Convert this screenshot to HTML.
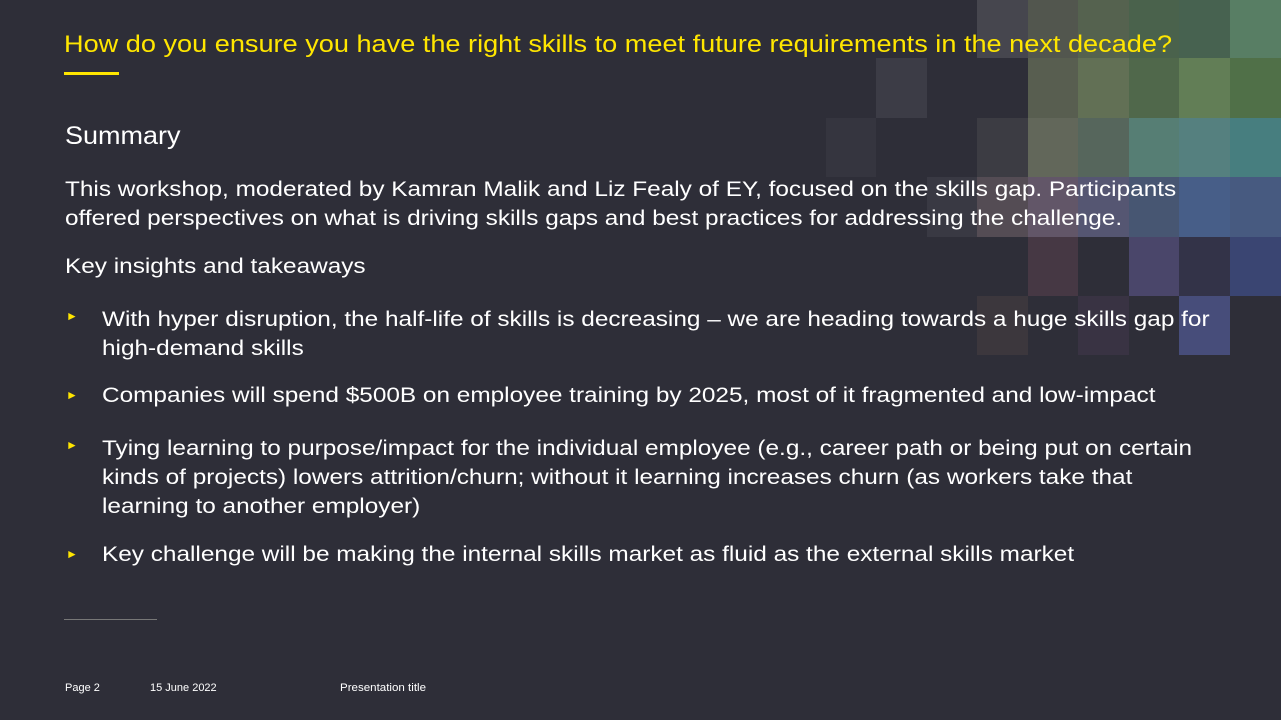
<!DOCTYPE html>
<html><head><meta charset="utf-8"><style>
body{margin:0;width:1281px;height:720px;background:#2e2e38;overflow:hidden;position:relative;font-family:"Liberation Sans",sans-serif;}
.c{position:absolute;width:51px;height:60px;}
.t{position:absolute;white-space:nowrap;color:#fff;transform-origin:0 0;}
.b{font-size:21px;transform:scaleX(1.16);}
.bul{position:absolute;color:#ffe600;font-size:12px;}
</style></head><body>
<div id="mosaic"></div>
<div class="t" style="left:64px;top:31px;font-size:24px;color:#ffe600;transform:scaleX(1.13);">How do you ensure you have the right skills to meet future requirements in the next decade?</div>
<div style="position:absolute;left:64px;top:72px;width:55px;height:3px;background:#ffe600"></div>
<div class="t" style="left:65px;top:122px;font-size:25px;transform:scaleX(1.08);">Summary</div>
<div class="t b" style="left:65px;top:175px;line-height:29px;">This workshop, moderated by Kamran Malik and Liz Fealy of EY, focused on the skills gap. Participants<br>offered perspectives on what is driving skills gaps and best practices for addressing the challenge.</div>
<div class="t b" style="left:65px;top:255px;">Key insights and takeaways</div>
<div class="bul" style="left:66px;top:309px">►</div>
<div class="t b" style="left:102px;top:305px;line-height:29px;">With hyper disruption, the half-life of skills is decreasing – we are heading towards a huge skills gap for<br>high-demand skills</div>
<div class="bul" style="left:66px;top:388px">►</div>
<div class="t b" style="left:102px;top:384px;">Companies will spend $500B on employee training by 2025, most of it fragmented and low-impact</div>
<div class="bul" style="left:66px;top:438px">►</div>
<div class="t b" style="left:102px;top:434px;line-height:29px;">Tying learning to purpose/impact for the individual employee (e.g., career path or being put on certain<br>kinds of projects) lowers attrition/churn; without it learning increases churn (as workers take that<br>learning to another employer)</div>
<div class="bul" style="left:66px;top:547px">►</div>
<div class="t b" style="left:102px;top:543px;">Key challenge will be making the internal skills market as fluid as the external skills market</div>
<div style="position:absolute;left:64px;top:619px;width:93px;height:1px;background:#777"></div>
<div class="t" style="left:65px;top:682px;font-size:11px;">Page 2</div>
<div class="t" style="left:150px;top:682px;font-size:11px;">15 June 2022</div>
<div class="t" style="left:340px;top:682px;font-size:11px;transform:scaleX(1.05);">Presentation title</div>
<script>
const cols=[826,876,927,977,1028,1078,1129,1179,1230];
const rows=[0,58,118,177,237,296];
const cells=[
[0,3,'#46464e'],[0,4,'#52564e'],[0,5,'#55624f'],[0,6,'#4a624c'],[0,7,'#476250'],[0,8,'#587e64'],
[1,1,'#3c3c46'],[1,4,'#585e50'],[1,5,'#627055'],[1,6,'#50684b'],[1,7,'#627e56'],[1,8,'#507048'],
[2,0,'#35353f'],[2,3,'#3c3c43'],[2,4,'#62675a'],[2,5,'#56665c'],[2,6,'#567e74'],[2,7,'#55807f'],[2,8,'#477e7f'],
[3,2,'#393943'],[3,3,'#544c54'],[3,4,'#625668'],[3,5,'#555672'],[3,6,'#475672'],[3,7,'#475e88'],[3,8,'#475a80'],
[4,4,'#463844'],[4,6,'#4a466a'],[4,7,'#333348'],[4,8,'#3a4572'],
[5,3,'#3c373d'],[5,5,'#393343'],[5,7,'#474d7a']];
const m=document.getElementById('mosaic');
cells.forEach(([r,c,col])=>{
 const d=document.createElement('div');
 d.className='c';
 
 
 d.style.left=cols[c]+'px';d.style.top=rows[r]+'px';
 d.style.width=((cols[c+1]||1281)-cols[c])+'px';
 d.style.height=((rows[r+1]||355)-rows[r])+'px';
 d.style.background=col;
 m.appendChild(d);
});
</script>
</body></html>
